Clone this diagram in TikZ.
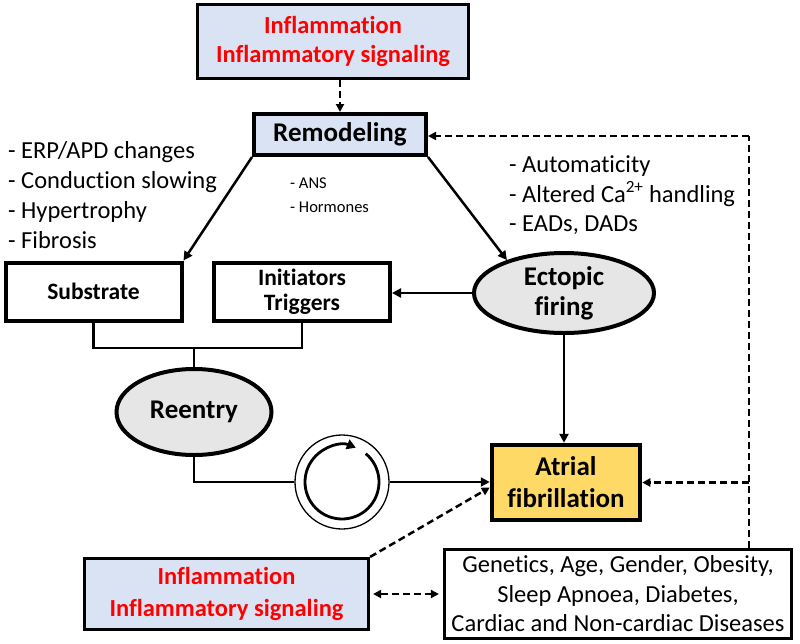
\documentclass[tikz,border=0pt]{standalone}
\usepackage{fontspec}
\setmainfont{Carlito}[Ligatures=NoCommon]
\usetikzlibrary{arrows.meta,shapes.geometric}
\definecolor{lblue}{HTML}{DAE3F3}
\definecolor{afy}{HTML}{FFD966}
\definecolor{egray}{HTML}{E6E6E6}
\definecolor{ired}{HTML}{FF0000}
\begin{document}
\begin{tikzpicture}[x=1pt,y=-1pt,
  box/.style={draw,rectangle,line width=4pt,inner sep=0pt,align=center},
  oval/.style={draw,ellipse,line width=4pt,fill=egray,inner sep=0pt,align=center,
    font=\bfseries\fontsize{27}{30}\selectfont},
  inftext/.style={font=\bfseries\fontsize{24.5}{29}\selectfont,text=ired},
  lst/.style={anchor=base west,inner sep=0pt,font=\fontsize{24.5}{30}\selectfont},
  smalllst/.style={anchor=base west,inner sep=0pt,font=\fontsize{16.5}{20}\selectfont},
  arr/.style={line width=2.5pt,-{Triangle[length=9pt,width=9pt]}},
  plain/.style={line width=2.5pt},
  darr/.style={line width=2.5pt,dash pattern=on 7pt off 4pt,-{Triangle[length=8pt,width=8pt]}},
  dline/.style={line width=2.5pt,dash pattern=on 7pt off 4pt}]
\useasboundingbox (0,0) rectangle (800,643);

% nodes
\node[box,line width=3.2pt,fill=lblue,minimum width=271pt,minimum height=74pt,inftext] (topinf) at (333,41.5)
  {Inflammation\\Inflammatory signaling};
\node[box,fill=lblue,minimum width=172pt,minimum height=41pt,font=\bfseries\fontsize{27}{30}\selectfont] (remod) at (340,134.5) {Remodeling};
\node[box,minimum width=176pt,minimum height=58pt,font=\bfseries\fontsize{23.5}{28}\selectfont] (sub) at (93.5,291.5) {Substrate};
\node[box,minimum width=176pt,minimum height=58pt,font=\bfseries\fontsize{23.5}{25}\selectfont] (init) at (302,291.5) {Initiators\\Triggers};
\node[oval,minimum width=180pt,minimum height=80pt] (ect) at (564,293) {Ectopic\\firing};
\node[oval,minimum width=155pt,minimum height=86pt] (reen) at (194,412) {Reentry};
\node[box,line width=4.5pt,fill=afy,minimum width=148pt,minimum height=75pt,font=\bfseries\fontsize{27}{32}\selectfont] (af) at (566,482.5) {Atrial\\fibrillation};
\node[box,line width=3.2pt,minimum width=347pt,minimum height=89pt,font=\fontsize{24.5}{29.5}\selectfont] (gen) at (618,594)
  {Genetics, Age, Gender, Obesity,\\Sleep Apnoea, Diabetes,\\Cardiac and Non-cardiac Diseases};
\node[box,line width=3.2pt,fill=lblue,minimum width=284pt,minimum height=71pt,inftext,font=\bfseries\fontsize{24.5}{32}\selectfont] (botinf) at (226.5,594)
  {Inflammation\\Inflammatory signaling};
\node[draw,circle,line width=1.3pt,fill=white,minimum size=94pt,inner sep=0pt] (cyc) at (342,482) {};

% text lists
\node[lst] (l1) at (8,158) {- ERP/APD changes};
\node[lst] (l2) at (8,188) {- Conduction slowing};
\node[lst] (l3) at (8,218) {- Hypertrophy};
\node[lst] (l4) at (8,248) {- Fibrosis};
\node[smalllst] (m1) at (290,188.5) {- ANS};
\node[smalllst] (m2) at (290,212.5) {- Hormones};
\node[lst] (r1) at (509,172) {- Automaticity};
\node[lst] (r2) at (509,202) {- Altered Ca\textsuperscript{2+} handling};
\node[lst] (r3) at (509,231) {- EADs, DADs};

% coordinates
\coordinate (j) at (194,348);
\coordinate (rt) at (749,136);

% connectors
\draw[darr] (remod.north |- topinf.south) -- (remod.north);
\draw[arr] (remod.south west) -- (sub.north east);
\draw[arr] (remod.south east) -- (ect.150);
\draw[arr] (ect.west) -- (init.east |- ect.west);
\draw[plain] (sub.south) |- (j) -| (init.south);
\draw[plain] (j) -- (reen.north);
\draw[plain] (reen.south) |- (cyc.west);
\draw[arr] (cyc.east) -- (af.west |- cyc.east);
\draw[arr] (ect.south) -- (af.north -| ect.south);
\draw[dline] (gen.north -| rt) -- (rt);
\draw[darr] (rt) -- (remod.east |- rt);
\draw[darr] (af.east -| rt) -- (af.east);
\draw[darr] (botinf.north east) -- ([yshift=-5pt]af.west);
\draw[line width=2.5pt,dash pattern=on 7pt off 4pt,{Triangle[length=8pt,width=8pt]}-{Triangle[length=8pt,width=8pt]}]
  ([xshift=3pt]botinf.east) -- ([xshift=-4pt]gen.west |- botinf.east);

% cycle arrow
\draw[line width=2.8pt,-{Triangle[length=9pt,width=10pt]}] ([shift={(50:37pt)}]cyc.center)
  arc[start angle=50,end angle=-292,radius=37pt];
\end{tikzpicture}
\end{document}
